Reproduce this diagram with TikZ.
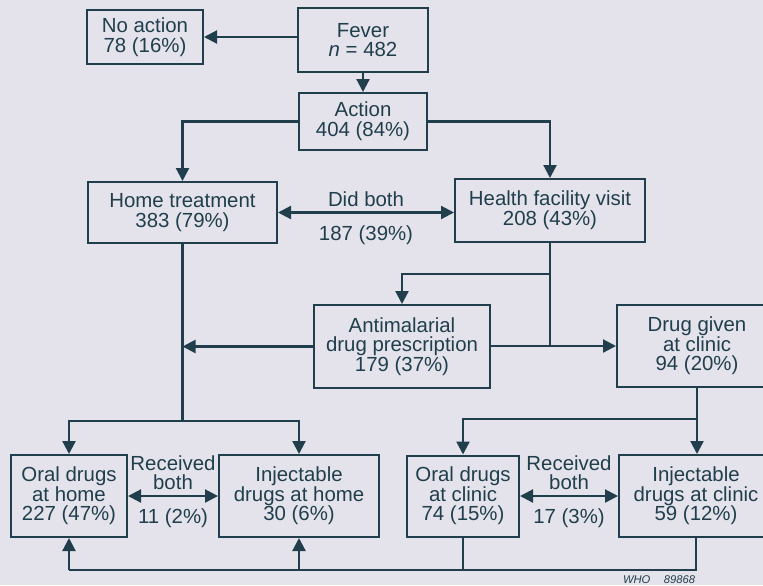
\documentclass[tikz,border=0pt]{standalone}
\usepackage{fontspec}
\setmainfont{Liberation Sans}
\usetikzlibrary{positioning,arrows.meta}
\definecolor{PageBg}{RGB}{228,227,235}
\definecolor{Ink}{RGB}{32,62,76}

\begin{document}
\begin{tikzpicture}[x=0.5pt, y=-0.5pt, on grid, color=Ink, line width=1.1pt,
flowbox/.style ={rectangle, draw=Ink, line width=1pt, align=center, inner sep=2pt,
font=\fontsize{10.2pt}{9.8pt}\selectfont},
note/.style ={align=center, inner sep=2.5pt, font=\fontsize{10.2pt}{9.8pt}\selectfont},
countnote/.style ={note, below, yshift=-3.5pt},
flow/.style ={-{Triangle[length=6.5pt,width=6.5pt]}},
twoway/.style ={{Triangle[length=6.5pt,width=6.5pt]}-{Triangle[length=6.5pt,width=6.5pt]}}]
\useasboundingbox (0,0) rectangle (763,585);
\fill[PageBg] (0,0) rectangle (763,585);
\clip (0,0) rectangle (763,585);

\node[flowbox, minimum width=65pt, minimum height=32pt] (Fever) at (363,40) {Fever\\\textit{n} = 482};
\node[flowbox, minimum width=58pt, minimum height=27pt] (NoAction) [above left=1.5pt and 109pt of Fever] {No action\\78 (16\%)};
\node[flowbox, minimum width=64pt, minimum height=28.5pt] (Action) [below=40.75pt of Fever] {Action\\404 (84\%)};
\node[flowbox, minimum width=94.5pt, minimum height=30.5pt] (HomeTreatment) [below left=45.5pt and 90.25pt of Action] {Home treatment\\383 (79\%)};
\node[flowbox, minimum width=95pt, minimum height=31.5pt] (HealthVisit) [below right=44.5pt and 93.5pt of Action] {Health facility visit\\208 (43\%)};
\node[flowbox, minimum width=88pt, minimum height=41.5pt] (Antimalarial) [below left=68pt and 74pt of HealthVisit] {Antimalarial\\drug prescription\\179 (37\%)};
\node[flowbox, minimum width=80pt, minimum height=41pt] (DrugClinic) [below right=67.75pt and 73.5pt of HealthVisit] {Drug given\\at clinic\\94 (20\%)};
\node[flowbox, minimum width=58pt, minimum height=41pt] (OralHome) [below left=141.75pt and 56.75pt of HomeTreatment] {Oral drugs\\at home\\227 (47\%)};
\node[flowbox, minimum width=80pt, minimum height=41pt] (InjectHome) [right=115pt of OralHome] {Injectable\\drugs at home\\30 (6\%)};
\node[flowbox, minimum width=56pt, minimum height=40.5pt] (OralClinic) [right=82pt of InjectHome] {Oral drugs\\at clinic\\74 (15\%)};
\node[flowbox, minimum width=77pt, minimum height=41pt] (InjectClinic) [right=116.5pt of OralClinic] {Injectable\\drugs at clinic\\59 (12\%)};
\node[font=\fontsize{5.6pt}{6pt}\selectfont\itshape] (WhoCode) at (659,580) {WHO\hspace{1.2em}89868};

% top part
\path[flow] (NoAction -| Fever.west) edge (NoAction.east);
\path[flow] (Fever.south) edge (Action.north);
\draw[flow] (Action.west) -| (HomeTreatment.north);
\draw[flow] (Action.east) -| (HealthVisit.north);
\path[twoway] (HomeTreatment.east) edge node[note, above] {Did both} node[countnote] {187 (39\%)} (HomeTreatment.east -| HealthVisit.west);

% health facility branch
\coordinate (HealthSplit) at (HealthVisit.south |- 0,274);
\coordinate (HealthJoin) at (HealthVisit.south |- DrugClinic.west);
\draw[flow] (HealthVisit.south) |- (DrugClinic.west);
\draw[flow] (HealthSplit) -| (Antimalarial.north);
\draw (Antimalarial.east |- HealthJoin) -- (HealthJoin);
\path[flow] (Antimalarial.west) edge (Antimalarial.west -| HomeTreatment.south);

% home branch
\coordinate (HomeSplit) at (HomeTreatment.south |- 0,421);
\draw (HomeTreatment.south) -- (HomeSplit);
\draw[flow] (HomeSplit) -| (OralHome.north);
\draw[flow] (HomeSplit) -| (InjectHome.north);
\path[twoway] (OralHome.east) edge node[note, above] {Received\\both} node[countnote] {11 (2\%)} (InjectHome.west);

% clinic branch
\coordinate (ClinicSplit) at (DrugClinic.south |- 0,419);
\path[flow] (DrugClinic.south) edge (DrugClinic.south |- InjectClinic.north);
\draw[flow] (ClinicSplit) -| (OralClinic.north);
\path[twoway] (OralClinic.east) edge node[note, above] {Received\\both} node[countnote] {17 (3\%)} (OralClinic.east -| InjectClinic.west);

% back to home
\coordinate (ClinicReturn) at (OralHome.south |- 0,570);
\draw (InjectClinic.south) |- (ClinicReturn);
\draw (OralClinic.south) -- (OralClinic.south |- ClinicReturn);
\path[flow] (ClinicReturn) edge (OralHome.south);
\path[flow] (ClinicReturn -| InjectHome.south) edge (InjectHome.south);
\end{tikzpicture}
\end{document}
